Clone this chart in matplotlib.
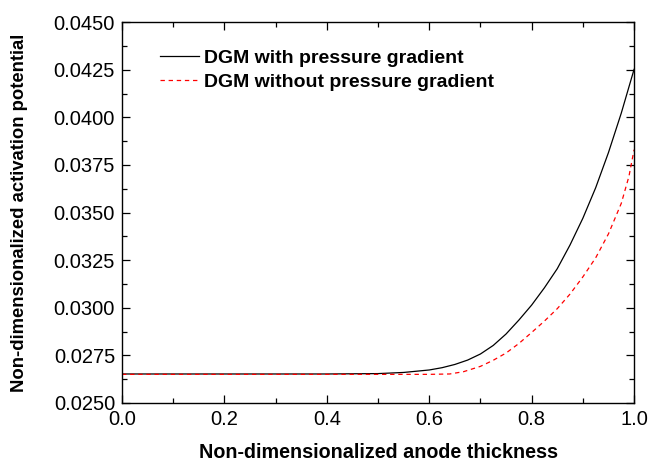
import matplotlib
matplotlib.use("Agg")
import matplotlib.pyplot as plt
from matplotlib.ticker import MultipleLocator, FormatStrFormatter

plt.rcParams['font.family'] = ['Liberation Sans', 'DejaVu Sans']

# anode thickness (non-dimensional) and activation potential
x_with = [0.0, 0.1, 0.2, 0.3, 0.4, 0.5, 0.55, 0.60, 0.625, 0.65, 0.675, 0.70, 0.725,
          0.75, 0.775, 0.80, 0.825, 0.85, 0.875, 0.90, 0.925, 0.95, 0.975, 1.0]
y_with = [0.02652, 0.02652, 0.02652, 0.02652, 0.02652, 0.02654, 0.02660, 0.02673,
          0.02685, 0.02702, 0.02725, 0.02757, 0.02802, 0.02862, 0.02935, 0.03014,
          0.03105, 0.03205, 0.03330, 0.03470, 0.03630, 0.03815, 0.04022, 0.04252]

x_without = [0.0, 0.1, 0.2, 0.3, 0.4, 0.5, 0.6, 0.64, 0.667, 0.70, 0.725, 0.75, 0.775,
             0.80, 0.825, 0.85, 0.875, 0.90, 0.925, 0.95, 0.975, 0.99, 1.0]
y_without = [0.02650, 0.02650, 0.02650, 0.02650, 0.02650, 0.02650, 0.02650, 0.02652,
             0.02664, 0.02692, 0.02724, 0.02762, 0.02812, 0.02870, 0.02930, 0.02995,
             0.03072, 0.03162, 0.03262, 0.03388, 0.03548, 0.03690, 0.03830]

fig, ax = plt.subplots(figsize=(6.49, 4.61), dpi=100)
fig.subplots_adjust(left=0.188, right=0.977, top=0.952, bottom=0.126)

ax.plot(x_with, y_with, color='black', linewidth=0.9, label='DGM with pressure gradient')
ax.plot(x_without, y_without, color='red', linewidth=0.9, linestyle=(0, (3.5, 3)),
        label='DGM without pressure gradient')

ax.set_xlim(0.0, 1.0)
ax.set_ylim(0.0250, 0.0450)
ax.xaxis.set_major_locator(MultipleLocator(0.2))
ax.xaxis.set_minor_locator(MultipleLocator(0.1))
ax.yaxis.set_major_locator(MultipleLocator(0.0025))
ax.yaxis.set_minor_locator(MultipleLocator(0.00125))
ax.xaxis.set_major_formatter(FormatStrFormatter('%.1f'))
ax.yaxis.set_major_formatter(FormatStrFormatter('%.4f'))

ax.tick_params(which='both', direction='in', top=True, right=True, labelsize=14.5)
ax.tick_params(which='major', length=6, width=0.9)
ax.tick_params(which='minor', length=3.6, width=0.9)
ax.tick_params(axis='x', pad=5)
ax.tick_params(axis='y', pad=5)
for s in ax.spines.values():
    s.set_linewidth(1.0)

ax.set_xlabel('Non-dimensionalized anode thickness', fontsize=14.2, fontweight='bold')
ax.set_ylabel('Non-dimensionalized activation potential', fontsize=13.3, fontweight='bold')
ax.xaxis.set_label_coords(0.5, -0.106)
ax.yaxis.set_label_coords(-0.184, 0.5)

ax.legend(loc='upper left', bbox_to_anchor=(0.04, 0.975), frameon=False,
          prop={'weight': 'bold', 'size': 14}, handlelength=2.0, handletextpad=0.25,
          labelspacing=0.35)

fig.savefig('out.png', dpi=100)
